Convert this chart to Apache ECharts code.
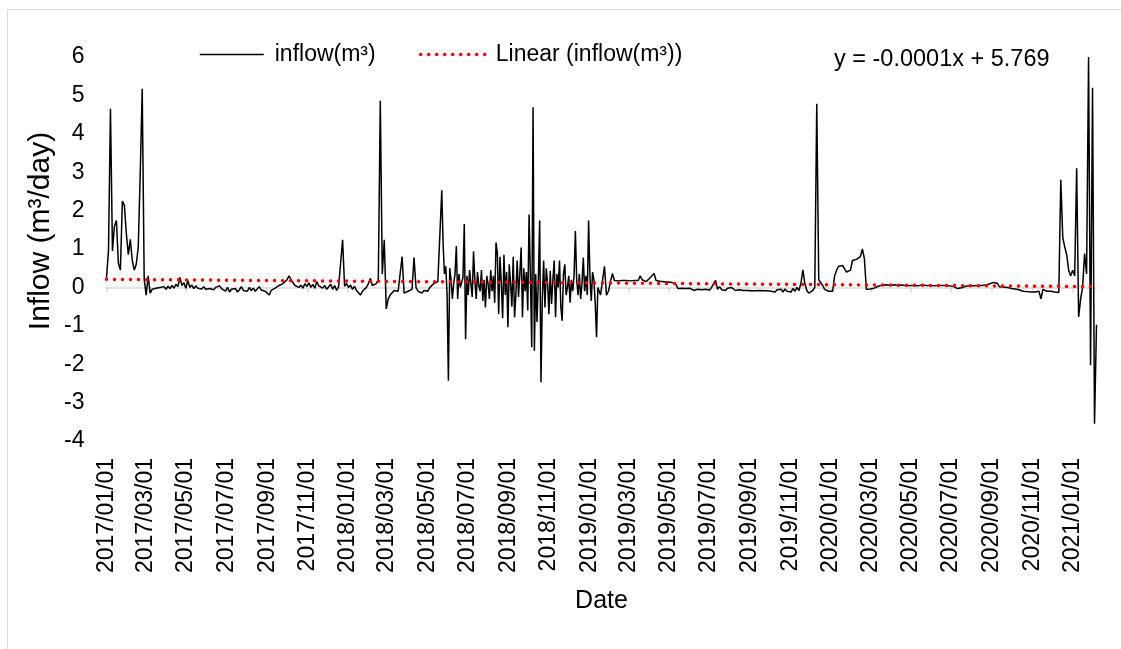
<!DOCTYPE html>
<html>
<head>
<meta charset="utf-8">
<script src="https://cdn.jsdelivr.net/npm/echarts@6/dist/echarts.min.js"></script>
<style>
html,body{margin:0;padding:0;background:#fff;overflow:hidden;}
#chart{width:1121px;height:649px;}
</style>
</head>
<body>
<div id="chart"></div>
<script>
// ---- data ----
// Segment A: 2017-01-01 .. 2018-05-20, one reading every 3 days
const inflowSegA = [
0.25, 0.95, 4.65, 0.95, 1.6, 1.74, 0.62, 0.45, 2.25, 2.14,
1.4, 0.85, 1.25, 0.7, 0.45, 0.6, 1.05, 2.96, 5.17, 0.2,
-0.2, 0.3, -0.15, -0.05, -0.08, -0.02, -0.06, 0.0, -0.04, 0.02,
-0.05, 0.03, -0.03, 0.05, -0.02, 0.08, 0.02, 0.26, 0.05, 0.12,
-0.02, 0.18, 0.0, 0.06, -0.03, 0.04, -0.02, 0.03, -0.04, 0.02,
-0.05, 0.0, -0.03, 0.02, -0.06, 0.0, -0.04, 0.04, -0.03, -0.06,
-0.1, 0.0, -0.12, -0.05, -0.1, -0.03, -0.12, -0.06, 0.02, -0.08,
-0.04, -0.1, 0.0, -0.08, -0.02, -0.1, -0.05, 0.02, -0.07, -0.03,
-0.1, -0.05, -0.2, -0.08, -0.1, -0.02, -0.06, 0.05, 0.0, 0.1,
0.05, 0.2, 0.3, 0.32, 0.12, 0.05, 0.1, 0.0, 0.06, -0.02,
0.1, 0.02, 0.12, 0.0, 0.08, -0.02, 0.15, 0.04, 0.06, -0.02,
0.05, -0.05, 0.0, 0.08, -0.05, 0.05, -0.08, 0.02, 0.05, 1.24,
0.03, 0.1, 0.0, 0.06, -0.05, 0.03, -0.08, -0.05, -0.2, -0.1,
-0.05, 0.0, 0.1, 0.24, 0.05, 0.0, 0.1, 0.2, 4.86, 0.35,
1.24, -0.56, -0.3, -0.2, -0.15, -0.08, -0.05, -0.1, -0.05, 0.8,
-0.15, -0.18, -0.1, -0.15, -0.05, 0.78, 0.0, -0.1, -0.05, -0.15,
-0.08, -0.05, -0.1, 0.0, 0.05, 0.1, 0.08, 0.15, 0.2
];
// Segment B: 2018-05-23 .. 2019-01-20, one reading every 2 days (noisy period)
const inflowSegB = [
2.53, 1.13, 0.35, 0.55, -0.17, -2.43, 0.5, 0.2, -0.3, 0.1,
0.35, 1.08, -0.3, 0.35, 0.0, -0.05, 0.25, 1.65, -1.35, 0.3,
-0.2, 0.45, 0.1, -0.25, 0.94, 0.2, -0.3, 0.4, 0.05, -0.1,
0.45, -0.35, 0.2, -0.52, 0.3, 0.1, -0.3, 0.45, -0.1, 0.3,
-0.4, 1.17, 0.9, -0.7, 0.8, 0.1, -0.8, 0.85, -0.2, 0.4,
-1.04, 0.6, 0.1, -0.5, 0.8, -0.78, -0.2, 0.7, -0.25, 0.35,
1.04, -0.78, 0.5, -0.1, 0.4, -0.6, 1.9, 0.3, -1.56, 4.69,
-1.65, 0.35, -0.9, 0.2, 1.74, -2.47, -0.3, 0.7, -0.52, 0.5,
0.1, -0.7, 0.43, -0.43, 0.2, 0.7, -0.78, 0.35, 0.0, 0.7,
-0.5, -0.87, 0.35, 0.6, -0.2, 0.0, 0.3, -0.4, 0.2, -0.1,
0.3, 1.47, 0.2, -0.2, 0.35, -0.3, 0.1, 0.78, -0.1, 0.3,
-0.2, 1.74, 0.3, -0.35, 0.4, 0.2, -0.4, -1.3, 0.0, -0.1,
-0.2, -0.15
];
// Segment C: 2019-01-24 .. 2021-02-06, one reading every 3 days
const inflowSegC = [
0.55, -0.2, -0.1, 0.15, 0.36, 0.18, 0.18, 0.17, 0.18,
0.18, 0.17, 0.18, 0.18, 0.17, 0.18, 0.18, 0.17, 0.18, 0.3,
0.2, 0.25, 0.15, 0.2, 0.25, 0.3, 0.36, 0.18, 0.15, 0.16,
0.14, 0.15, 0.13, 0.14, 0.12, 0.13, 0.1, 0.08, -0.03, -0.05,
-0.02, -0.06, -0.03, -0.07, -0.02, -0.05, -0.08, -0.03, -0.05, 0.0,
-0.06, -0.02, -0.05, -0.03, -0.07, 0.0, 0.1, 0.18, -0.05, 0.02,
-0.06, -0.03, -0.08, -0.02, -0.06, 0.0, -0.05, -0.08, -0.03, -0.06,
-0.08, -0.08, -0.09, -0.08, -0.09, -0.09, -0.08, -0.09, -0.09, -0.08,
-0.09, -0.09, -0.08, -0.09, -0.08, -0.1, -0.05, -0.12, -0.06, -0.1,
-0.05, -0.12, -0.04, -0.1, -0.06, -0.12, -0.03, -0.1, 0.0, -0.08,
0.1, 0.46, 0.1, -0.08, -0.15, -0.16, -0.08, 0.0, 4.78, 0.2,
0.15, 0.05, -0.05, -0.08, -0.1, -0.12, -0.1, 0.3, 0.45, 0.55,
0.57, 0.57, 0.57, 0.4, 0.4, 0.45, 0.7, 0.72, 0.73, 0.75,
0.8, 1.0, 0.75, -0.05, -0.05, -0.04, 0.0, -0.02, 0.02, 0.03,
0.05, 0.06, 0.05, 0.07, 0.06, 0.05, 0.06, 0.07, 0.06, 0.05,
0.05, 0.06, 0.05, 0.04, 0.05, 0.05, 0.06, 0.05, 0.05, 0.04,
0.05, 0.06, 0.05, 0.05, 0.04, 0.05, 0.05, 0.04, 0.05, 0.05,
0.04, 0.05, 0.04, 0.05, 0.05, 0.04, 0.03, 0.02, 0.0, -0.03,
-0.04, -0.01, 0.02, 0.03, 0.03, 0.04, 0.05, 0.04, 0.05, 0.05,
0.04, 0.05, 0.05, 0.06, 0.07, 0.09, 0.12, 0.13, 0.12, 0.11,
0.02, 0.0, 0.01, -0.01, 0.0, -0.02, -0.03, -0.02, -0.04, -0.05,
-0.06, -0.08, -0.1, -0.12, -0.11, -0.13, -0.12, -0.14, -0.12, -0.13,
-0.1, -0.3, -0.05, -0.06, -0.1, -0.08, -0.1, -0.07, -0.12, -0.1,
-0.13, 2.8, 1.3, 1.05, 0.85, 0.44, 0.3, 0.45, 0.3, 3.1,
-0.77, -0.3, 0.0, 0.88, 0.35, 6.0, -2.03, 5.2, -3.55, -0.97
];
const segmentStarts = ['2017-01-01', '2018-05-23', '2019-01-24'];
const segmentStepDays = [3, 2, 3];
const trendValues = [0.21, 0.02]; // Linear trend at first and last date
const tickLabels = [
'2017/01/01','2017/03/01','2017/05/01','2017/07/01','2017/09/01','2017/11/01',
'2018/01/01','2018/03/01','2018/05/01','2018/07/01','2018/09/01','2018/11/01',
'2019/01/01','2019/03/01','2019/05/01','2019/07/01','2019/09/01','2019/11/01',
'2020/01/01','2020/03/01','2020/05/01','2020/07/01','2020/09/01','2020/11/01',
'2021/01/01'
];
const seriesName = 'inflow(m³)';
const trendName = 'Linear (inflow(m³))';
const equationText = 'y = -0.0001x + 5.769';

// ---- build ----
const DAY = 86400000;
const parseYMD = s => { const p = s.split(/[-\/]/).map(Number); return Date.UTC(p[0], p[1]-1, p[2]); };
const segments = [inflowSegA, inflowSegB, inflowSegC];
const inflowData = [];
segments.forEach((vals, k) => {
  const s = parseYMD(segmentStarts[k]);
  vals.forEach((v, i) => inflowData.push([s + i * segmentStepDays[k] * DAY, v]));
});
const t0 = inflowData[0][0];
const tEnd = inflowData[inflowData.length - 1][0];
const trendData = [[t0, trendValues[0]], [tEnd, trendValues[1]]];
const tickTimes = tickLabels.map(parseYMD);
const labelMap = {};
tickLabels.forEach((s, i) => { labelMap[tickTimes[i]] = s; });

const FONT = '"Liberation Sans", Arial, sans-serif';
const DOTS = {color: '#ff0000', width: 3.5, type: [0.1, 7.9], cap: 'round'};
const chart = echarts.init(document.getElementById('chart'), null, {renderer: 'canvas'});
chart.setOption({
  animation: false,
  backgroundColor: '#ffffff',
  graphic: [{
    type: 'rect', left: 5, top: 7, silent: true,
    shape: {x: 0, y: 0, width: 1130, height: 660},
    style: {fill: 'none', stroke: '#d9d9d9', lineWidth: 1}
  }],
  title: {
    text: equationText, left: 829, top: 43,
    textStyle: {fontFamily: FONT, fontSize: 23.5, fontWeight: 'normal', color: '#000'}
  },
  legend: [{
    data: [seriesName], left: 194, top: 38, itemWidth: 64, itemHeight: 14,
    itemStyle: {opacity: 0},
    lineStyle: {color: '#000', width: 1.5},
    textStyle: {fontFamily: FONT, fontSize: 23, color: '#000', padding: [0, 0, 0, 6]}
  }, {
    data: [trendName], left: 414, top: 38, itemWidth: 68, itemHeight: 14,
    itemStyle: {opacity: 0},
    lineStyle: DOTS,
    textStyle: {fontFamily: FONT, fontSize: 23, color: '#000', padding: [0, 0, 0, 2]}
  }],
  grid: {left: 106.5, right: 24.5, top: 57, bottom: 208, containLabel: false},
  xAxis: [{
    type: 'value', min: t0, max: tEnd, position: 'bottom',
    axisLine: {show: false, onZero: false},
    axisTick: {show: false},
    splitLine: {show: false},
    axisLabel: {
      customValues: tickTimes, rotate: 90, margin: 17, color: '#000',
      fontFamily: FONT, fontSize: 23, hideOverlap: false,
      showMinLabel: true, showMaxLabel: true,
      formatter: v => labelMap[v] || ''
    },
    name: 'Date', nameLocation: 'middle', nameGap: 148,
    nameTextStyle: {fontFamily: FONT, fontSize: 25, color: '#000'}
  }, {
    type: 'value', min: t0, max: tEnd, position: 'bottom',
    axisLine: {show: true, onZero: true, lineStyle: {color: '#d9d9d9', width: 1.5}},
    axisTick: {show: true, customValues: tickTimes, inside: false, length: 5, lineStyle: {color: '#d9d9d9', width: 1.5}},
    axisLabel: {show: false},
    splitLine: {show: false}
  }],
  yAxis: {
    type: 'value', min: -4, max: 6, interval: 1,
    axisLine: {show: false}, axisTick: {show: false}, splitLine: {show: false},
    axisLabel: {color: '#000', fontFamily: FONT, fontSize: 23, margin: 22},
    name: 'Inflow (m³/day)', nameLocation: 'middle', nameGap: 51,
    nameMoveOverlap: false,
    nameTextStyle: {fontFamily: FONT, fontSize: 30, color: '#000', padding: [0, 0, 0, 36]}
  },
  series: [{
    name: seriesName, type: 'line', xAxisIndex: 0, data: inflowData,
    symbol: 'none', showSymbol: false,
    lineStyle: {color: '#000', width: 1.5},
    itemStyle: {color: '#000'}, z: 2
  }, {
    name: trendName, type: 'line', xAxisIndex: 0, data: trendData,
    symbol: 'none', showSymbol: false,
    lineStyle: DOTS,
    itemStyle: {color: '#ff0000'}, z: 3
  }]
});
</script>
</body>
</html>
